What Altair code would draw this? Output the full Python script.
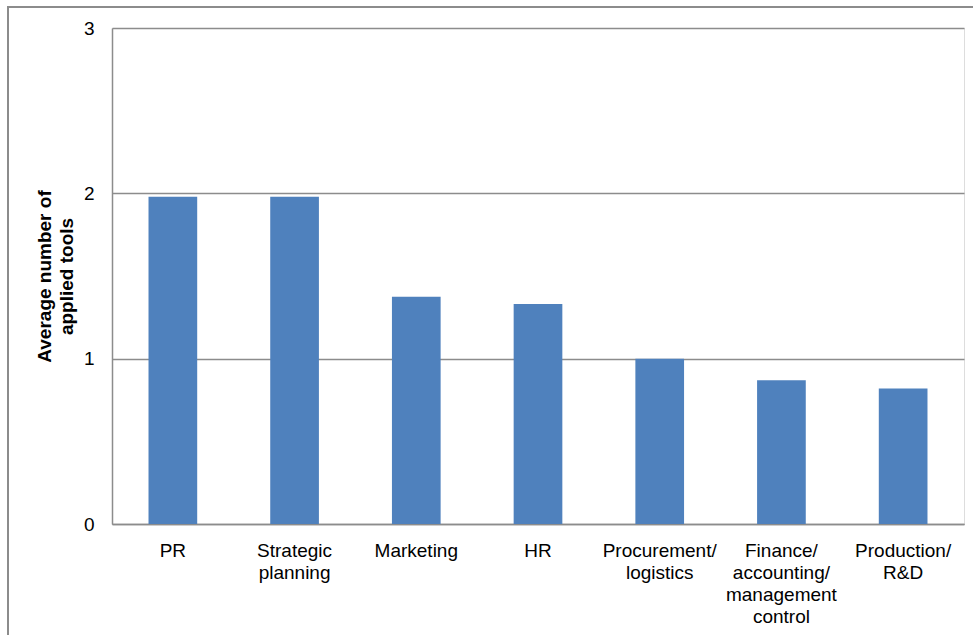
import altair as alt
import pandas as pd

categories = ["PR", "Strategic\nplanning", "Marketing", "HR", "Procurement/\nlogistics",
              "Finance/\naccounting/\nmanagement\ncontrol", "Production/\nR&D"]
values = [1.98, 1.98, 1.375, 1.33, 1.0, 0.87, 0.82]
y_ticks = [0, 1, 2, 3]

df = pd.DataFrame({"category": categories, "value": values})

W, H = 852, 496
PAD_L, PAD_T = 112, 28
FS = 19

bars = alt.Chart(df).mark_bar(color="#4F81BD").encode(
    x=alt.X("category:N", sort=categories,
            scale=alt.Scale(paddingInner=0.6, paddingOuter=0.3),
            axis=alt.Axis(title=None, labelAngle=0, labelExpr="split(datum.label, '\\n')",
                          labelFont="Liberation Sans", labelFontSize=FS, labelColor="#000",
                          labelLineHeight=22, labelPadding=17, ticks=False,
                          domainColor="#8c8c8c", domainWidth=1.5)),
    y=alt.Y("value:Q", scale=alt.Scale(domain=[0, 3], nice=False),
            axis=alt.Axis(values=y_ticks, format="d", title=["Average number of", "applied tools"],
                          titleFont="Liberation Sans", titleFontSize=FS, titleFontWeight="bold",
                          titleColor="#000", titleLineHeight=22, titlePadding=7,
                          labelFont="Liberation Sans", labelFontSize=FS, labelColor="#000",
                          labelPadding=18, ticks=False,
                          domainColor="#8c8c8c", domainWidth=1.5,
                          grid=True, gridColor="#8c8c8c", gridWidth=1.5)),
)

frame = alt.Chart(df).mark_rect(fill=None, stroke="#8c8c8c", strokeWidth=1.5, clip=False).encode(
    x=alt.value(8 - PAD_L), y=alt.value(7 - PAD_T),
    x2=alt.value(990 - PAD_L), y2=alt.value(650 - PAD_T),
)

chart = alt.layer(frame, bars).properties(
    width=W, height=H,
    autosize=alt.AutoSizeParams(type="none"),
    padding={"left": PAD_L, "top": PAD_T, "right": 973 - PAD_L - W, "bottom": 635 - PAD_T - H},
).configure_view(stroke=None).configure(background="white")

chart.save("out.html", embed_options={"renderer": "svg", "actions": False})
